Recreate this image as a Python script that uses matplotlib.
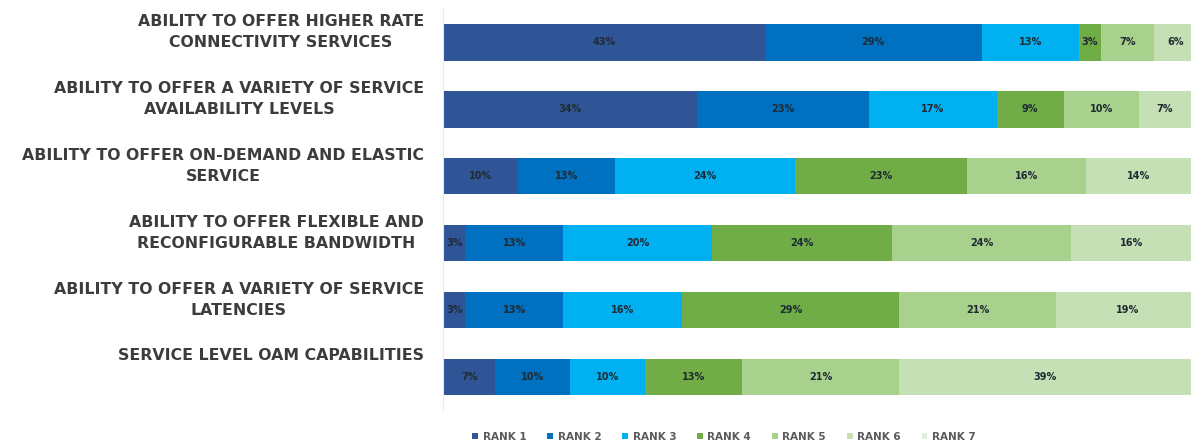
import numpy as np
import matplotlib.pyplot as plt
from matplotlib import transforms

# categories (top to bottom)
categories = [
    "ABILITY TO OFFER HIGHER RATE\nCONNECTIVITY SERVICES",
    "ABILITY TO OFFER A VARIETY OF SERVICE\nAVAILABILITY LEVELS",
    "ABILITY TO OFFER ON-DEMAND AND ELASTIC\nSERVICE",
    "ABILITY TO OFFER FLEXIBLE AND\nRECONFIGURABLE BANDWIDTH",
    "ABILITY TO OFFER A VARIETY OF SERVICE\nLATENCIES",
    "SERVICE LEVEL OAM CAPABILITIES",
]

# share of respondents per rank (%)
rank1 = [43, 34, 10, 3, 3, 7]
rank2 = [29, 23, 13, 13, 13, 10]
rank3 = [13, 17, 24, 20, 16, 10]
rank4 = [3, 9, 23, 24, 29, 13]
rank5 = [7, 10, 16, 24, 21, 21]
rank6 = [6, 7, 14, 16, 19, 39]
rank7 = [0, 0, 0, 0, 0, 0]

series = [rank1, rank2, rank3, rank4, rank5, rank6, rank7]
names = ["RANK 1", "RANK 2", "RANK 3", "RANK 4", "RANK 5", "RANK 6", "RANK 7"]
colors = ["#2f5597", "#0070c0", "#00b0f0", "#70ad47", "#a9d18e", "#c5e0b4", "#e2f0d9"]

fig = plt.figure(figsize=(11.91, 4.44), dpi=100)
ax = fig.add_axes([0.372, 0.0755, 0.628, 0.905])

y = np.arange(len(categories))
left = np.zeros(len(categories))
for vals, name, col in zip(series, names, colors):
    vals = np.array(vals, dtype=float)
    bars = ax.barh(y, vals, left=left, height=0.55, color=col, label=name)
    for b, v in zip(bars, vals):
        if v > 0:
            ax.text(b.get_x() + b.get_width() / 2, b.get_y() + b.get_height() / 2,
                    f"{int(v)}%", ha="center", va="center", fontsize=7,
                    fontweight="bold", color="#1f2a33")
    left += vals

ax.set_xlim(0, 100)
ax.set_ylim(5.5, -0.5)
ax.set_yticks([])
ax.set_xticks([])
for s in ["top", "right", "bottom"]:
    ax.spines[s].set_visible(False)
ax.spines["left"].set_color("#e8e8e8")

# category labels sit a little above the bar centre (single-line one higher)
base = transforms.blended_transform_factory(ax.transAxes, ax.transData)
for yi, lab in zip(y, categories):
    nlines = lab.count("\n") + 1
    shift = 10 + (2 - nlines) * 11.5
    tr = transforms.offset_copy(base, fig=fig, x=-19, y=shift, units="dots")
    ax.text(0, yi, lab, transform=tr, ha="right", va="center", multialignment="center",
            fontsize=11.3, fontweight="bold", color="#3c3c3c", family="DejaVu Sans",
            linespacing=1.5)

leg = fig.legend(loc="lower center", bbox_to_anchor=(0.608, -0.016), ncol=7, frameon=False,
                 handlelength=0.55, handleheight=0.55, handletextpad=0.45,
                 columnspacing=2.0, prop={"weight": "bold", "size": 7.5, "family": "DejaVu Sans"})
for t in leg.get_texts():
    t.set_color("#5a5a5a")

fig.savefig("out.png", dpi=100)
